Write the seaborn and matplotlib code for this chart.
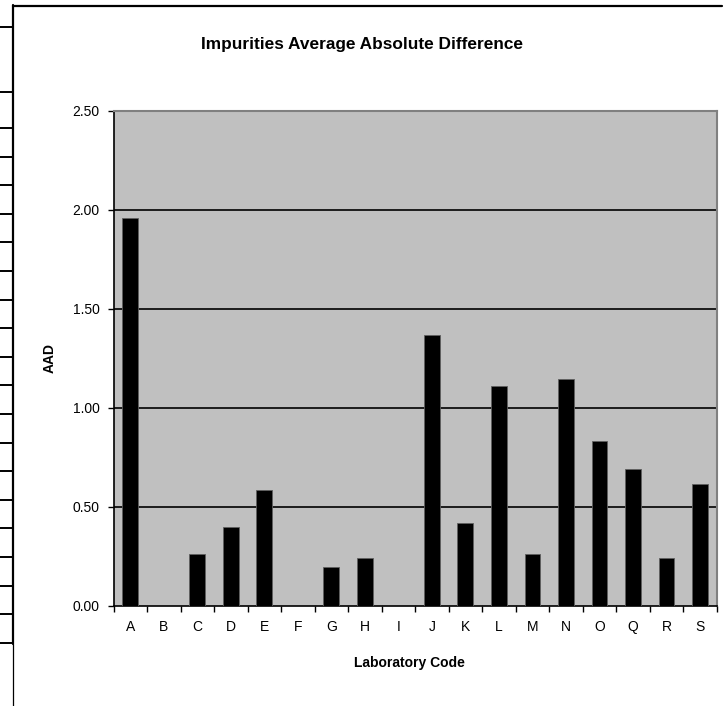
import matplotlib
matplotlib.use("Agg")
import matplotlib.pyplot as plt
import seaborn as sns
import pandas as pd
import numpy as np
from matplotlib.lines import Line2D

labs = ["A", "B", "C", "D", "E", "F", "G", "H", "I", "J", "K", "L", "M", "N", "O", "Q", "R", "S"]
aad = [1.96, 0.0, 0.26, 0.40, 0.585, 0.0, 0.197, 0.242, 0.0, 1.37, 0.42, 1.11, 0.26, 1.145, 0.83, 0.693, 0.242, 0.613]
yticks = [0.0, 0.5, 1.0, 1.5, 2.0, 2.5]

sns.set_theme(style="white")
plt.rcParams['font.family'] = ['Liberation Sans', 'DejaVu Sans']

df = pd.DataFrame({"Laboratory Code": labs, "AAD": aad})

W, H = 725, 706
fig = plt.figure(figsize=(W / 100, H / 100), dpi=100)
fig.patch.set_facecolor("white")
ax = fig.add_axes([113.5 / W, 1 - 605.7 / H, (716.7 - 113.5) / W, (605.7 - 111) / H])
ax.set_facecolor("#C0C0C0")

sns.barplot(data=df, x="Laboratory Code", y="AAD", order=labs, color="black",
            width=0.47, edgecolor="#606060", linewidth=0.6, saturation=1, ax=ax, zorder=3)

ax.set_ylim(0, 2.5)
ax.set_xlim(-0.5, len(labs) - 0.5)
ax.set_yticks(yticks)
ax.set_yticklabels([f"{v:.2f}" for v in yticks])
for v in yticks[1:-1]:
    ax.axhline(v, color="black", lw=1.2, zorder=2)

ax.set_xticks(range(len(labs)))
ax.set_xticklabels(labs)
ax.set_xticks(np.arange(-0.5, len(labs), 1.0), minor=True)
ax.tick_params(axis="x", which="major", length=0, pad=10, labelsize=10, colors="black")
ax.tick_params(axis="x", which="minor", length=4, width=1, color="black", direction="out", bottom=True)
ax.tick_params(axis="y", which="major", length=4, width=1, color="black", direction="out", left=True,
               pad=6, labelsize=10, labelcolor="black")

for s in ["left", "bottom"]:
    ax.spines[s].set_color("black")
    ax.spines[s].set_linewidth(1.2)
for s in ["top", "right"]:
    ax.spines[s].set_color("#808080")
    ax.spines[s].set_linewidth(1.5)

ax.set_xlabel("Laboratory Code", fontsize=10, fontweight="bold", color="black")
ax.xaxis.label.set_va("center")
ax.xaxis.set_label_coords((409 - 113.5) / (716.7 - 113.5), (605.7 - 663) / (605.7 - 111))
ax.set_ylabel("AAD", fontsize=10, fontweight="bold", color="black")
ax.yaxis.label.set_va("center")
ax.yaxis.label.set_ha("center")
ax.yaxis.set_label_coords((50 - 113.5) / (716.7 - 113.5), 0.5)
ax.set_title("Impurities Average Absolute Difference", fontsize=12.4, fontweight="bold",
             color="black", x=(362 - 113.5) / (716.7 - 113.5),
             y=(605.7 - 45) / (605.7 - 111), va="center", pad=0)

# spreadsheet frame decoration
def fx(px):
    return px / W
def fy(py):
    return 1 - py / H

fig.add_artist(Line2D([fx(13), fx(722)], [fy(5.5), fy(5.5)], color="black", lw=1.6))
fig.add_artist(Line2D([fx(13.3), fx(13.3)], [fy(5), fy(644)], color="black", lw=1.6))
fig.add_artist(Line2D([fx(13.3), fx(13.3)], [fy(644), fy(706)], color="black", lw=0.9))
rows = [27, 92] + [128 + 28.6 * k for k in range(19)]
for r in rows:
    fig.add_artist(Line2D([fx(0), fx(13.3)], [fy(r), fy(r)], color="black", lw=1.4))

fig.savefig("out.png", dpi=100)
